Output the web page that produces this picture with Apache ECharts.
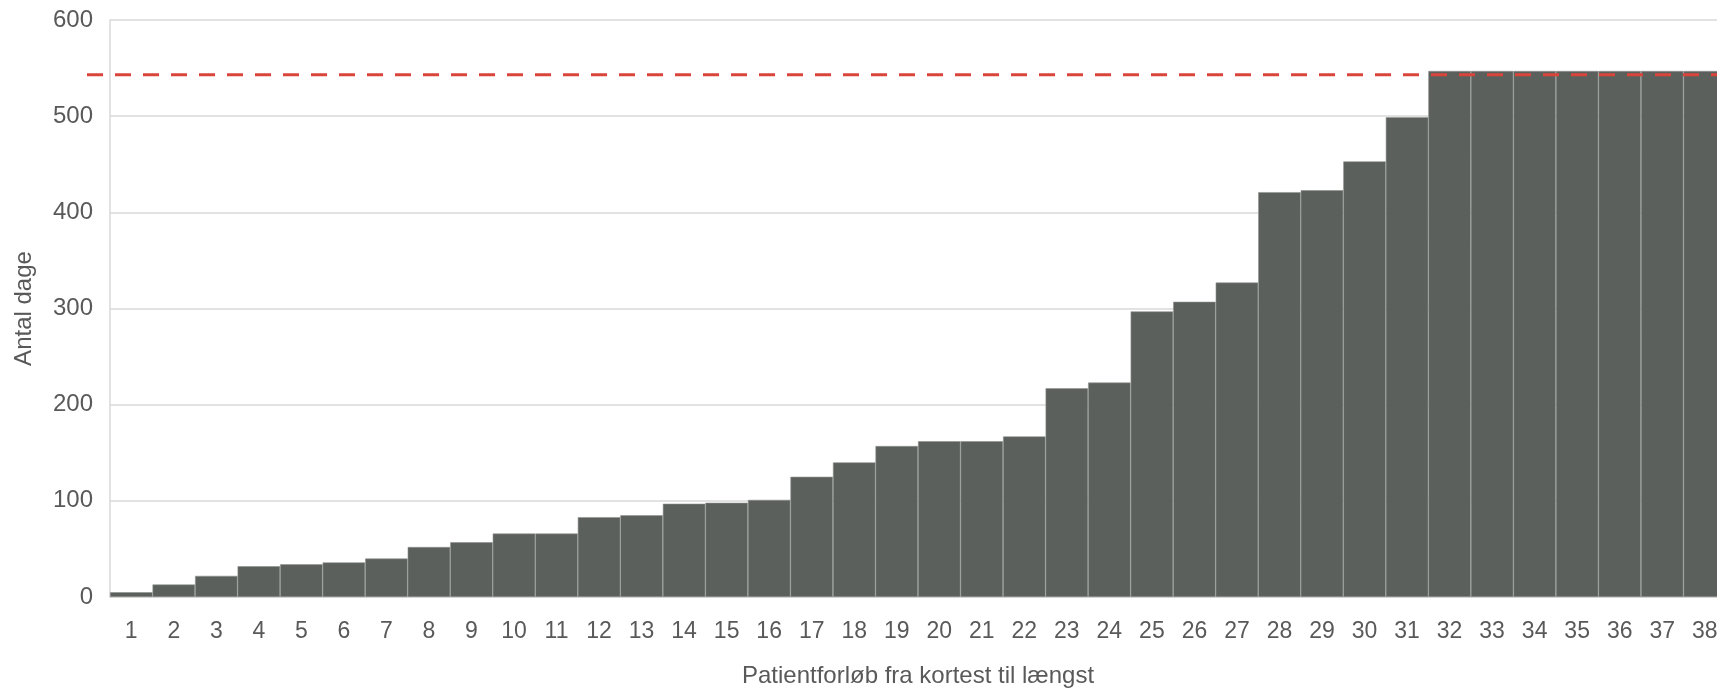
<!DOCTYPE html>
<html>
<head>
<meta charset="utf-8">
<script src="https://cdn.jsdelivr.net/npm/echarts@6/dist/echarts.min.js"></script>
<style>
html,body{margin:0;padding:0;background:#fff;}
#chart{width:1717px;height:688px;}
</style>
</head>
<body>
<div id="chart"></div>
<script>
const categories = ['1','2','3','4','5','6','7','8','9','10','11','12','13','14','15','16','17','18','19','20','21','22','23','24','25','26','27','28','29','30','31','32','33','34','35','36','37','38'];
const days = [5,13,22,32,34,36,40,52,57,66,66,83,85,97,98,101,125,140,157,162,162,167,217,223,297,307,327,421,423,453,499,547,547,547,547,547,547,547];
const referenceLine = 543;
const yTicks = {min:0, max:600, interval:100};

const chart = echarts.init(document.getElementById('chart'));
const font = 'Liberation Sans, Arial, sans-serif';
chart.setOption({
  animation:false,
  grid:[
    {left:110, top:20, bottom:91, width:1616, outerBoundsMode:'none', containLabel:false},
    {left:87, top:20, bottom:91, width:1639, outerBoundsMode:'none', containLabel:false}
  ],
  xAxis:[{
    type:'category', data:categories, gridIndex:0,
    axisLine:{lineStyle:{color:'#d9d9d9', width:1.5}},
    axisTick:{show:false},
    axisLabel:{color:'#595959', fontSize:23, fontFamily:font, margin:23, interval:0},
    name:'Patientforløb fra kortest til længst', nameLocation:'middle', nameGap:67,
    nameTextStyle:{color:'#595959', fontSize:24, fontFamily:font}
  },{
    type:'value', gridIndex:1, min:0, max:1, show:false
  }],
  yAxis:[{
    type:'value', gridIndex:0, min:yTicks.min, max:yTicks.max, interval:yTicks.interval,
    axisLine:{show:true, lineStyle:{color:'#d9d9d9', width:1.5}},
    axisTick:{show:false},
    splitLine:{lineStyle:{color:'#d9d9d9', width:1.5}},
    axisLabel:{color:'#595959', fontSize:24, fontFamily:font, margin:17},
    name:'Antal dage', nameLocation:'middle', nameGap:74, nameRotate:90,
    nameTextStyle:{color:'#595959', fontSize:24, fontFamily:font}
  },{
    type:'value', gridIndex:1, min:yTicks.min, max:yTicks.max, show:false
  }],
  series:[{
    type:'bar', data:days, xAxisIndex:0, yAxisIndex:0,
    barCategoryGap:'0%',
    itemStyle:{color:'#5b605c', borderColor:'#8e928f', borderWidth:0.6},
    z:2
  },{
    type:'line', xAxisIndex:1, yAxisIndex:1,
    data:[[0,referenceLine],[1,referenceLine]],
    symbol:'none',
    lineStyle:{color:'#d9453b', width:3, type:[16,12]},
    z:5
  }]
});
</script>
</body>
</html>
